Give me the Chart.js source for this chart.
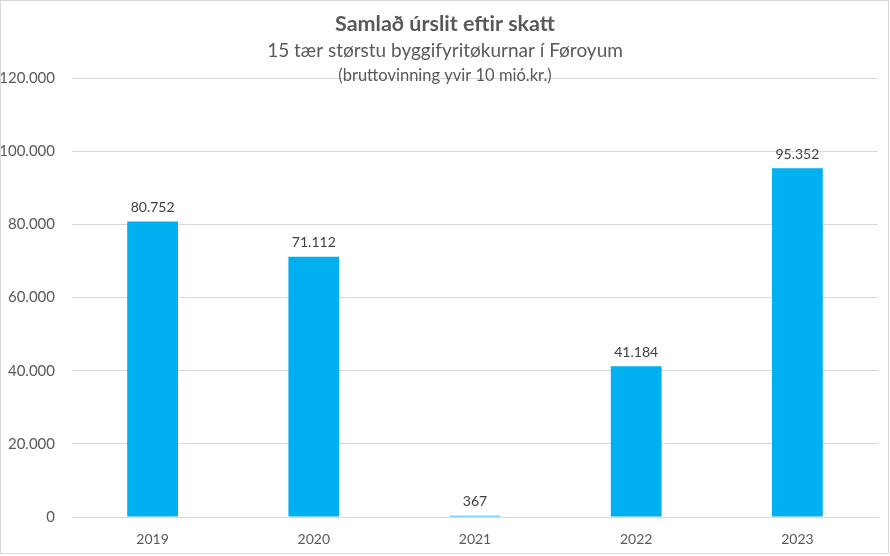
<!DOCTYPE html>
<html><head><meta charset="utf-8">
<script src="https://cdn.jsdelivr.net/npm/chart.js@4/dist/chart.umd.min.js"></script>
<style>html,body{margin:0;padding:0;background:#fff}#c{display:block}</style>
</head><body>
<canvas id="c" width="890" height="556"></canvas>
<script>
const categories = ["2019","2020","2021","2022","2023"];
const values = [80752, 71112, 367, 41184, 95352];
const titleText = "Samlað úrslit eftir skatt";
const subtitleText = "15 tær størstu byggifyritøkurnar í Føroyum";
const noteText = "(bruttovinning yvir 10 mió.kr.)";

const FONT = "Lato, 'Open Sans', sans-serif";
const fmt = v => Math.round(v).toString().replace(/\B(?=(\d{3})+(?!\d))/g, ".");

const decor = {
  id: 'decor',
  afterDraw(chart) {
    const ctx = chart.ctx;
    ctx.save();
    ctx.textAlign = 'center';
    ctx.textBaseline = 'middle';
    ctx.fillStyle = '#595959';
    ctx.font = "bold 21.5px " + FONT;
    ctx.fillText(titleText, 445, 24);
    ctx.font = "19px " + FONT;
    ctx.fillText(subtitleText, 445, 51);
    ctx.font = "16.5px " + FONT;
    ctx.fillText(noteText, 445, 76);
    // data labels
    const meta = chart.getDatasetMeta(0);
    ctx.fillStyle = '#404040';
    ctx.font = "14px " + FONT;
    meta.data.forEach((bar, i) => {
      ctx.fillText(fmt(values[i]), bar.x, bar.y - 14);
    });
    // border
    ctx.strokeStyle = '#d9d9d9';
    ctx.lineWidth = 1;
    ctx.strokeRect(0.5, 0.5, 888, 553);
    ctx.restore();
  }
};

new Chart(document.getElementById('c'), {
  type: 'bar',
  data: {
    labels: categories,
    datasets: [{
      data: values,
      backgroundColor: '#00B0F0',
      categoryPercentage: 1,
      barPercentage: 0.315
    }]
  },
  options: {
    responsive: false,
    animation: false,
    layout: { padding: { top: 78, left: 0, right: 12, bottom: 0 } },
    plugins: { legend: { display: false }, tooltip: { enabled: false } },
    scales: {
      x: {
        grid: { display: false },
        border: { display: true, color: '#d9d9d9' },
        ticks: { color: '#595959', font: { family: FONT, size: 14 }, padding: 6 },
        afterFit(s) { s.height = 39; }
      },
      y: {
        min: 0, max: 120000,
        grid: { color: '#d9d9d9', drawTicks: false },
        border: { display: false },
        ticks: {
          stepSize: 20000,
          color: '#595959',
          font: { family: FONT, size: 15 },
          padding: 17,
          callback: v => fmt(v)
        },
        afterFit(s) { s.width = 72; }
      }
    }
  },
  plugins: [decor]
});
</script>
</body></html>
